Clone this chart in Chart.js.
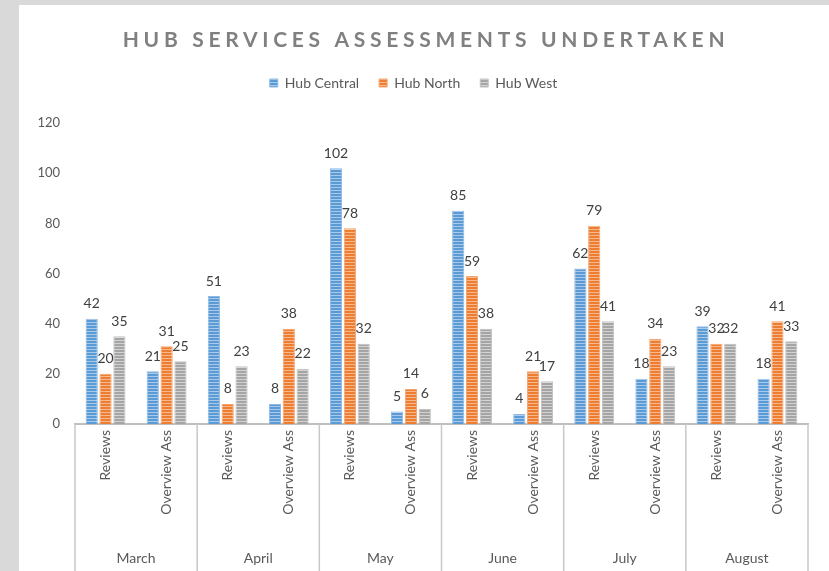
<!DOCTYPE html>
<html>
<head>
<meta charset="utf-8">
<script src="https://cdn.jsdelivr.net/npm/chart.js@4/dist/chart.umd.min.js"></script>
<style>
  html, body { margin: 0; padding: 0; background: #d9d9d9; }
  #panel { position: absolute; left: 19px; top: 5px; width: 810px; height: 566px; background: #fff; }
</style>
</head>
<body>
<div id="panel"><canvas id="hubChart" width="810" height="566"></canvas></div>
<script>
// data
var months = ['March', 'April', 'May', 'June', 'July', 'August'];
var subCats = ['Reviews', 'Overview Ass'];
var hubCentral = [42, 21, 51, 8, 102, 5, 85, 4, 62, 18, 39, 18];
var hubNorth = [20, 31, 8, 38, 78, 14, 59, 21, 79, 34, 32, 41];
var hubWest = [35, 25, 23, 22, 32, 6, 38, 17, 41, 23, 32, 33];
var yTicks = [0, 20, 40, 60, 80, 100, 120];

var labels = [];
months.forEach(function (m) {
  subCats.forEach(function (s) { labels.push(s); });
});

var ctx = document.getElementById('hubChart').getContext('2d');

// Excel-like narrow horizontal stripes
function stripes(base, light) {
  var c = document.createElement('canvas');
  c.width = 4; c.height = 3;
  var g = c.getContext('2d');
  g.fillStyle = base; g.fillRect(0, 0, 4, 3);
  g.fillStyle = light; g.fillRect(0, 2, 4, 1);
  return ctx.createPattern(c, 'repeat');
}

var FONT = 'Lato';

// extra room between legend and plot
var legendGap = {
  id: 'legendGap',
  beforeInit: function (chart) {
    var fit = chart.legend.fit;
    chart.legend.fit = function () {
      fit.call(this);
      this.height += 23;
    };
  }
};

// title, bar value labels, month level of the category axis
var extras = {
  id: 'extras',
  afterDraw: function (chart) {
    var c = chart.ctx, area = chart.chartArea, x = chart.scales.x;
    c.save();
    // title
    c.font = 'bold 21px ' + FONT;
    c.letterSpacing = '4.7px';
    c.fillStyle = '#808080';
    c.textAlign = 'center';
    c.textBaseline = 'middle';
    c.fillText('HUB SERVICES ASSESSMENTS UNDERTAKEN', 407, 35);
    c.letterSpacing = '0px';

    // value labels
    c.font = '14px ' + FONT;
    c.fillStyle = '#404040';
    c.textBaseline = 'bottom';
    chart.data.datasets.forEach(function (ds, i) {
      chart.getDatasetMeta(i).data.forEach(function (bar, j) {
        c.fillText(String(ds.data[j]), bar.x, bar.y - 8);
      });
    });

    // month separators and labels
    var n = labels.length;
    function edge(k) {
      if (k <= 0) return area.left;
      if (k >= n) return area.right;
      return (x.getPixelForValue(k - 1) + x.getPixelForValue(k)) / 2;
    }
    c.strokeStyle = '#c8c8c8';
    c.lineWidth = 1.5;
    for (var m = 0; m <= months.length; m++) {
      var px = edge(m * 2);
      c.beginPath();
      c.moveTo(px, area.bottom);
      c.lineTo(px, chart.height);
      c.stroke();
    }
    c.font = '14px ' + FONT;
    c.fillStyle = '#595959';
    c.textBaseline = 'middle';
    months.forEach(function (mn, i) {
      c.fillText(mn, (edge(i * 2) + edge(i * 2 + 2)) / 2, 553);
    });
    c.restore();
  }
};

new Chart(ctx, {
  type: 'bar',
  data: {
    labels: labels,
    datasets: [
      { label: 'Hub Central', data: hubCentral, backgroundColor: stripes('#5b9bd5', '#a9c9ea'), borderColor: '#8fb8e2', borderWidth: 1 },
      { label: 'Hub North', data: hubNorth, backgroundColor: stripes('#ed7d31', '#f6b98f'), borderColor: '#f3a46f', borderWidth: 1 },
      { label: 'Hub West', data: hubWest, backgroundColor: stripes('#a5a5a5', '#d2d2d2'), borderColor: '#c2c2c2', borderWidth: 1 }
    ]
  },
  options: {
    responsive: false,
    animation: false,
    layout: { padding: { top: 51, right: 21, left: 0, bottom: 0 } },
    datasets: { bar: { categoryPercentage: 0.68, barPercentage: 0.88 } },
    plugins: {
      legend: {
        position: 'top',
        labels: {
          boxWidth: 8, boxHeight: 8, padding: 20,
          color: '#595959',
          font: { family: FONT, size: 14 }
        }
      },
      tooltip: { enabled: false }
    },
    scales: {
      x: {
        grid: { display: false, drawTicks: false },
        border: { display: true, color: '#bfbfbf', width: 2 },
        ticks: {
          autoSkip: false, minRotation: 90, maxRotation: 90, padding: 6,
          color: '#595959', font: { family: FONT, size: 14 }
        },
        afterFit: function (scale) { scale.height = 147; }
      },
      y: {
        min: 0, max: 120,
        grid: { display: false, drawTicks: false },
        border: { display: false },
        afterBuildTicks: function (scale) {
          scale.ticks = yTicks.map(function (v) { return { value: v }; });
        },
        ticks: { padding: 15, color: '#595959', font: { family: FONT, size: 13 } },
        afterFit: function (scale) { scale.width = 56; }
      }
    }
  },
  plugins: [legendGap, extras]
});
</script>
</body>
</html>
